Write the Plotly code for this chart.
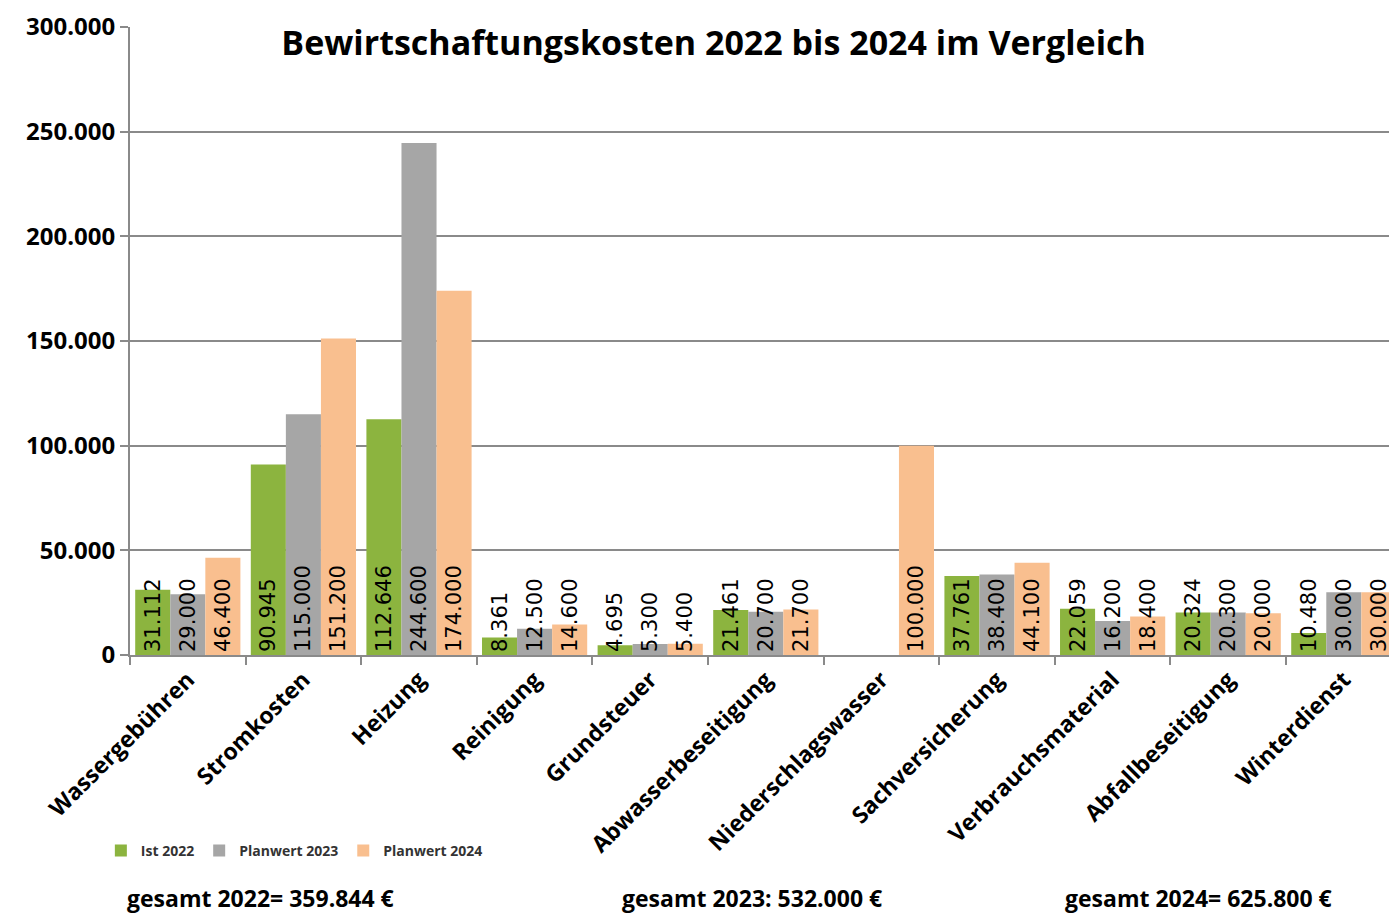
import plotly.graph_objects as go

# Kategorien und Werte (Euro)
kategorien = ["Wassergebühren", "Stromkosten", "Heizung", "Reinigung", "Grundsteuer",
              "Abwasserbeseitigung", "Niederschlagswasser", "Sachversicherung",
              "Verbrauchsmaterial", "Abfallbeseitigung", "Winterdienst"]
ist_2022 = [31112, 90945, 112646, 8361, 4695, 21461, None, 37761, 22059, 20324, 10480]
plan_2023 = [29000, 115000, 244600, 12500, 5300, 20700, None, 38400, 16200, 20300, 30000]
plan_2024 = [46400, 151200, 174000, 14600, 5400, 21700, 100000, 44100, 18400, 20000, 30000]

summen = ["gesamt 2022= 359.844 €", "gesamt 2023: 532.000 €", "gesamt 2024= 625.800 €"]


def de(v):
    return "" if v is None else f"{v:,}".replace(",", ".")


serien = [("Ist 2022", ist_2022, "#8CB43F"),
          ("Planwert 2023", plan_2023, "#A6A6A6"),
          ("Planwert 2024", plan_2024, "#F9BF8F")]

# Seite hat 8px Rand -> Figur etwas kleiner und verschoben
fig = go.Figure()
for name, werte, farbe in serien:
    fig.add_trace(go.Bar(
        x=kategorien, y=werte, name=f"<b>{name}</b>",
        marker=dict(color=farbe, line=dict(width=0)),
        text=[de(v) for v in werte],
        textposition="inside", insidetextanchor="start",
        textangle=-90, constraintext="none", cliponaxis=False,
        textfont=dict(family="DejaVu Sans", size=21, color="black"),
    ))

fig.update_layout(
    width=1389, height=910,
    margin=dict(l=122, r=0, t=19, b=263),
    paper_bgcolor="white", plot_bgcolor="white",
    barmode="group", bargap=0.09, bargroupgap=0,
    title=dict(text="<b>Bewirtschaftungskosten 2022 bis 2024 im Vergleich</b>",
               x=0.508, xanchor="center", y=0.961, yanchor="middle",
               font=dict(family="Open Sans", size=34, color="black")),
    font=dict(family="Open Sans", color="black"),
    showlegend=True,
    legend=dict(orientation="h", x=-0.023, y=-0.312, xanchor="left", yanchor="middle",
                font=dict(family="Open Sans", size=14, color="#333"),
                itemwidth=30, bgcolor="rgba(0,0,0,0)"),
)

fig.update_xaxes(
    range=[-0.5, 10.46], showline=True, linecolor="#8a8a8a", linewidth=2,
    ticks="outside", tickson="boundaries", ticklen=8, tickcolor="#8a8a8a", tickwidth=2,
    tickangle=-45, tickfont=dict(family="Open Sans", size=23, color="black"),
    showgrid=False,
)
fig.update_xaxes(ticktext=[f"<b>{k}</b>" for k in kategorien], tickvals=kategorien)

fig.update_yaxes(
    range=[0, 300000], tickvals=[0, 50000, 100000, 150000, 200000, 250000, 300000],
    ticktext=["<b>0</b>"] + [f"<b>{de(v)}</b>" for v in [50000, 100000, 150000, 200000, 250000, 300000]],
    showline=True, linecolor="#8a8a8a", linewidth=2,
    ticks="outside", ticklen=8, tickcolor="#8a8a8a", tickwidth=2,
    showgrid=True, gridcolor="#8a8a8a", gridwidth=2, zeroline=False,
    tickfont=dict(family="Open Sans", size=24, color="black"),
)

for txt, xpos in zip(summen, [117, 612, 1055]):
    fig.add_annotation(
        text=f"<b>{txt}</b>", xref="paper", yref="paper",
        x=(xpos - 122) / 1267, y=(647 - 890) / 628, xanchor="left", yanchor="middle",
        showarrow=False, font=dict(family="Open Sans", size=23, color="black"),
    )

fig.write_html("out.html")
